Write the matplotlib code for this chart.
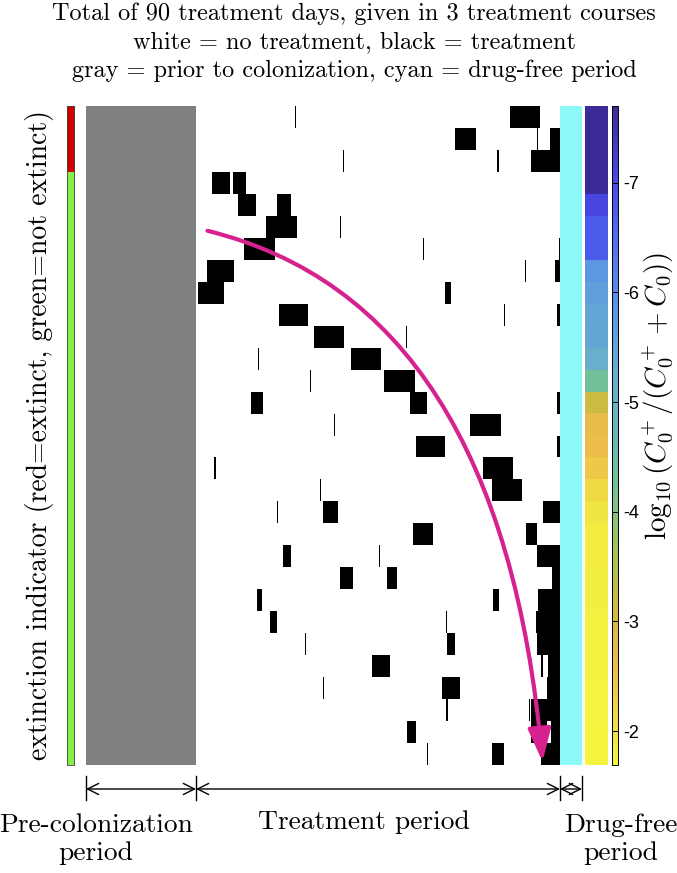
import numpy as np
import matplotlib
matplotlib.use('Agg')
import matplotlib.pyplot as plt
import matplotlib.transforms as mtransforms
from matplotlib.colors import LinearSegmentedColormap, ListedColormap, Normalize
from matplotlib.cm import ScalarMappable
from matplotlib.patches import FancyArrowPatch, ArrowStyle
from matplotlib.path import Path

plt.rcParams['axes.unicode_minus'] = False
plt.rcParams['mathtext.fontset'] = 'cm'

W, H = 677, 873

# lengths of the three periods (days)
PRECOL_DAYS = 110
TREAT_DAYS = 364
DRUGFREE_DAYS = 22

# treatment courses per run, (start, end) in days after colonization
courses = [
    [(98.5, 99.5), (313.5, 344)],
    [(259, 279.5), (340.5, 341.5), (354, 364)],
    [(146.5, 147.5), (301, 303), (334.5, 364)],
    [(16, 34), (37, 49.5)],
    [(42, 60), (80.5, 94.5)],
    [(69.5, 101), (143.5, 144.5)],
    [(48, 78.5), (227, 228), (362.5, 364)],
    [(11, 38), (329, 330), (359, 364)],
    [(2, 28), (248.5, 254.5)],
    [(83, 112), (308, 309), (361, 364)],
    [(118, 148), (210, 211)],
    [(61.5, 62.5), (154.5, 185)],
    [(113.5, 114.5), (188, 218.5)],
    [(55, 67), (214, 231), (361, 364)],
    [(137.5, 138.5), (274, 304.5)],
    [(220, 248.5), (361, 364)],
    [(18, 20), (287, 316.5)],
    [(124, 125), (296, 326)],
    [(81, 82), (127, 142), (347, 364)],
    [(217, 237), (329.5, 340.5)],
    [(87, 94.5), (183, 184), (341, 364)],
    [(143.5, 157), (191, 201), (355.5, 364)],
    [(61, 66), (297, 303), (342, 364)],
    [(74, 81), (250, 251), (339.5, 364)],
    [(109, 110), (250.5, 258.5), (341, 364)],
    [(175.5, 193.5), (344.5, 346.5), (352, 364)],
    [(127, 128), (246, 264), (350.5, 364)],
    [(249.5, 252), (332.5, 333.5), (335, 364)],
    [(210.5, 220), (335, 351), (354.5, 364)],
    [(231, 232), (296, 308), (344.5, 364)],
]

extinct = [1, 1, 1] + [0] * 27

log_ratio = [-7.7, -7.7, -7.7, -7.7, -7.1, -6.8, -6.8, -5.8, -5.6, -5.45,
             -5.4, -5.15, -4.3, -3.2, -2.7, -2.6, -2.4, -2.15, -1.95, -1.85,
             -1.85, -1.8, -1.8, -1.78, -1.75, -1.75, -1.72, -1.72, -1.7, -1.69]
cbar_ticks = [-7, -6, -5, -4, -3, -2]

parula = LinearSegmentedColormap.from_list('parula_like', [
    (0.00, (0.23, 0.17, 0.60)),
    (0.10, (0.28, 0.28, 0.88)),
    (0.18, (0.30, 0.40, 0.95)),
    (0.30, (0.35, 0.58, 0.90)),
    (0.40, (0.40, 0.68, 0.82)),
    (0.50, (0.42, 0.72, 0.72)),
    (0.58, (0.46, 0.76, 0.58)),
    (0.68, (0.65, 0.76, 0.35)),
    (0.76, (0.82, 0.73, 0.26)),
    (0.85, (0.93, 0.74, 0.30)),
    (0.93, (0.94, 0.86, 0.27)),
    (1.00, (0.96, 0.96, 0.25)),
])
norm = Normalize(vmin=-7.7, vmax=-1.69)


def box(x0, y0, x1, y1):
    return [x0 / W, 1 - y1 / H, (x1 - x0) / W, (y1 - y0) / H]


fig = plt.figure(figsize=(W / 100, H / 100), dpi=100)
serif = 'cmr10'

# main panel
ax = fig.add_axes(box(86, 106, 582, 765))
nrows = len(courses)
ax.set_xlim(-PRECOL_DAYS, TREAT_DAYS + DRUGFREE_DAYS)
ax.set_ylim(nrows, 0)
ax.axvspan(-PRECOL_DAYS, 0, color='#808080', lw=0)
ax.axvspan(TREAT_DAYS, TREAT_DAYS + DRUGFREE_DAYS, color='#8ef9f9', lw=0)
for i, row in enumerate(courses):
    ax.broken_barh([(s, e - s) for s, e in row], (i, 1), facecolors='black', edgecolor='none')
ax.axis('off')

# magenta trend arrow
arrow_path = Path([(11.5, 5.68), (305, 8.97), (346.5, 29.85)],
                  [Path.MOVETO, Path.CURVE3, Path.CURVE3])
arr = FancyArrowPatch(path=arrow_path, arrowstyle=ArrowStyle('-|>', head_length=20, head_width=7),
                      color='#d6228f', lw=3, transform=ax.transData, clip_on=False)
ax.add_patch(arr)

# period markers under the panel
bounds = [-PRECOL_DAYS, 0, TREAT_DAYS, TREAT_DAYS + DRUGFREE_DAYS]
trans = mtransforms.blended_transform_factory(ax.transData, ax.transAxes)
for b in bounds:
    ax.plot([b, b], [-0.0167, -0.0531], transform=trans, color='black', lw=1, clip_on=False)
for b0, b1 in zip(bounds[:-1], bounds[1:]):
    ax.annotate('', xy=(b1, -0.0364), xytext=(b0, -0.0364),
                xycoords=('data', 'axes fraction'), textcoords=('data', 'axes fraction'),
                arrowprops=dict(arrowstyle='<->', shrinkA=0, shrinkB=0, lw=1,
                                mutation_scale=20, color='black'),
                annotation_clip=False)

# extinction indicator
ax_ext = fig.add_axes(box(66.5, 106, 74, 765))
ax_ext.imshow(np.array(extinct)[:, None], cmap=ListedColormap(['#86ee45', '#d00000']),
              aspect='auto', interpolation='nearest')
ax_ext.set_xticks([])
ax_ext.set_yticks([])
for s in ax_ext.spines.values():
    s.set_color('#444444')
    s.set_linewidth(0.6)

# per-run value column
ax_col = fig.add_axes(box(585, 106, 608, 765))
ax_col.imshow(np.array(log_ratio)[:, None], cmap=parula, norm=norm,
              aspect='auto', interpolation='nearest')
ax_col.axis('off')

# colorbar
cax = fig.add_axes(box(612, 106, 618, 765))
cb = fig.colorbar(ScalarMappable(norm=norm, cmap=parula), cax=cax)
cax.invert_yaxis()
cb.set_ticks(cbar_ticks)
cb.set_ticklabels([str(t) for t in cbar_ticks])
cax.tick_params(direction='in', length=4, width=0.7, labelsize=13, pad=4)
for lab in cax.get_yticklabels():
    lab.set_family('Liberation Sans')
cb.outline.set_linewidth(0.7)

# texts
title_lines = ['Total of 90 treatment days, given in 3 treatment courses',
               'white = no treatment, black = treatment',
               'gray = prior to colonization, cyan = drug-free period']
for ypx, line in zip([14, 42, 71], title_lines):
    fig.text(354 / W, 1 - ypx / H, line, ha='center', va='center', family=serif, fontsize=17.5)

fig.text(40 / W, 1 - 435 / H, 'extinction indicator (red=extinct, green=not extinct)',
         rotation=90, ha='center', va='center', family=serif, fontsize=20)
fig.text(658 / W, 1 - 396 / H, r'$\log_{10}(C_0^+/(C_0^+ + C_0))$',
         rotation=90, ha='center', va='center', fontsize=21)

fig.text(96 / W, 1 - 839 / H, 'Pre-colonization\nperiod', ha='center', va='center',
         family=serif, fontsize=19.8, linespacing=1.22)
fig.text(364 / W, 1 - 822 / H, 'Treatment period', ha='center', va='center',
         family=serif, fontsize=19.8)
fig.text(621 / W, 1 - 839 / H, 'Drug-free\nperiod', ha='center', va='center',
         family=serif, fontsize=19.8, linespacing=1.22)

fig.savefig('out.png', dpi=100)
